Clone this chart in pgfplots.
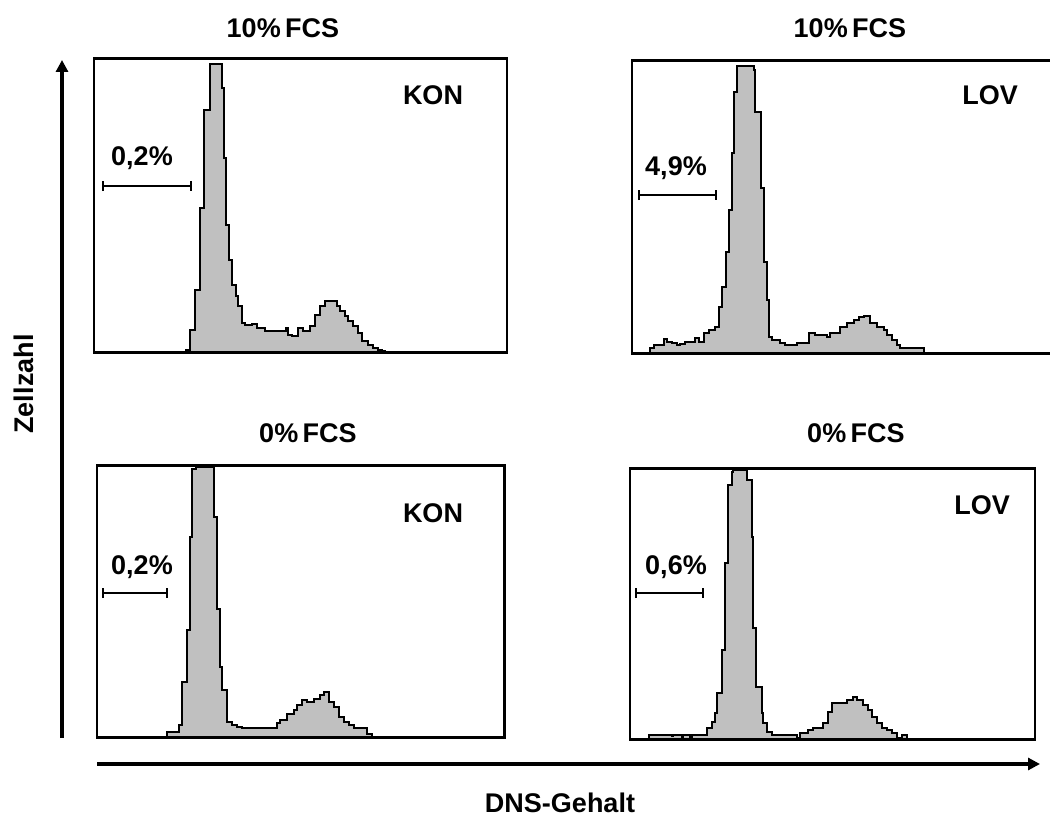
\documentclass[border=0pt]{standalone}
\usepackage{pgfplots}
\pgfplotsset{compat=1.18}
\usepackage{fontspec}
\setmainfont{Liberation Sans}
\usetikzlibrary{arrows.meta}
\definecolor{histgray}{HTML}{C0C0C0}

\pgfplotsset{
  histpanel/.style={
    x=0.5pt, y=0.5pt,
    anchor=south west,
    xmin=0, ymin=0,
    xtick=\empty, ytick=\empty,
    axis line style={line width=1.3pt},
  },
  hist/.style={const plot, fill=histgray, draw=black, line width=0.8pt},
}
\newcommand{\lbl}{\fontsize{13.5}{16}\selectfont\bfseries}

\begin{document}
\begin{tikzpicture}[x=0.5pt, y=0.5pt]
  \useasboundingbox (0,0) rectangle (1050,816);

  % 10% FCS, KON
  \begin{axis}[histpanel, at={(94,463)}, xmax=413, ymax=294.3]
    \addplot[hist] coordinates {
      (0,0) (92,3) (96,23) (101,63) (106,145) (110,243) (116,289) (128,265)
      (130,195) (132,128) (135,93) (138,68) (142,57) (144,47) (148,30) (151,28)
      (158,29) (163,25) (171,22) (189,22) (192,25) (194,18) (198,17) (204,25)
      (209,22) (216,27) (221,38) (226,47) (231,52) (243,47) (246,42) (251,37)
      (254,32) (259,27) (264,20) (268,12) (274,8) (279,5) (284,3) (288,2) (291,0) (413,0)
    } \closedcycle;
    \draw[line width=2.4pt] (rel axis cs:0,0) -- (rel axis cs:1,0);
  \end{axis}

  % 10% FCS, LOV
  \begin{axis}[histpanel, at={(632,462)}, xmax=425, ymax=293.3]
    \addplot[hist] coordinates {
      (0,0) (18,6) (22,9) (32,15) (35,12) (40,11) (45,9) (48,10) (53,12) (63,16)
      (67,12) (72,21) (77,24) (83,27) (87,47) (90,67) (94,102) (97,144) (100,201)
      (102,262) (105,288) (122,284) (123,242) (129,166) (132,92) (135,54) (137,17)
      (140,14) (148,11) (153,9) (165,11) (177,21) (183,19) (195,17) (198,21)
      (208,27) (215,31) (222,34) (227,37) (232,38) (238,31) (245,27) (252,24)
      (255,19) (260,14) (265,9) (268,6) (292,0) (425,0)
    } \closedcycle;
    \draw[line width=2.4pt] (rel axis cs:0,0) -- (rel axis cs:1,0);
  \end{axis}

  % 0% FCS, KON
  \begin{axis}[histpanel, at={(97,78)}, xmax=407.3, ymax=272.7]
    \addplot[hist] coordinates {
      (0,0) (70,6) (82,13) (85,56) (90,108) (93,201) (95,269) (99,271) (117,221)
      (120,129) (123,71) (125,48) (130,16) (135,13) (140,11) (145,10) (180,15)
      (183,18) (190,24) (197,28) (200,33) (205,38) (210,36) (217,39) (223,43)
      (227,46) (232,36) (237,31) (242,21) (247,16) (252,13) (257,10) (270,4) (275,0) (407.3,0)
    } \closedcycle;
    \draw[line width=2.4pt] (rel axis cs:0,0) -- (rel axis cs:1,0);
  \end{axis}

  % 0% FCS, LOV
  \begin{axis}[histpanel, at={(630,76)}, xmax=405, ymax=271.7]
    \addplot[hist] coordinates {
      (0,0) (19,5) (42,4) (43,5) (52,3) (53,5) (60,3) (62,5) (77,12) (82,18)
      (85,27) (87,47) (92,90) (95,177) (98,255) (102,268) (103,270) (117,260)
      (122,203) (123,112) (126,53) (132,27) (133,17) (137,8) (142,5) (167,2)
      (170,7) (178,10) (183,12) (193,17) (198,28) (202,37) (217,40) (223,43)
      (227,40) (233,35) (238,30) (242,23) (247,17) (252,12) (257,10) (262,7)
      (267,2) (272,5) (277,0) (405,0)
    } \closedcycle;
    \draw[line width=2.4pt] (rel axis cs:0,0) -- (rel axis cs:1,0);
  \end{axis}

  % panel titles and labels
  \node[font=\lbl] at (283,788) {10\%\,FCS};
  \node[font=\lbl] at (850,788) {10\%\,FCS};
  \node[font=\lbl] at (308,383) {0\%\,FCS};
  \node[font=\lbl] at (856,383) {0\%\,FCS};
  \node[font=\lbl] at (433,721) {KON};
  \node[font=\lbl] at (990,721) {LOV};
  \node[font=\lbl] at (433,303) {KON};
  \node[font=\lbl] at (982,311) {LOV};
  \node[font=\lbl] at (142,658) {0,2\%};
  \node[font=\lbl] at (676,648) {4,9\%};
  \node[font=\lbl] at (142,249) {0,2\%};
  \node[font=\lbl] at (676,249) {0,6\%};

  % gates
  \tikzset{gate/.style={line width=0.8pt, {Bar[width=5pt]}-{Bar[width=5pt]}}}
  \draw[gate] (102,630) -- (192,630);
  \draw[gate] (638,621) -- (717,621);
  \draw[gate] (102,223) -- (168,223);
  \draw[gate] (635,223) -- (704,223);

  % axes arrows
  \draw[line width=2pt, -{Triangle[length=6pt, width=6pt]}] (62,78) -- (62,756);
  \draw[line width=2.4pt, -{Triangle[length=6pt, width=6pt]}] (97,52) -- (1040,52);
  \node[font=\lbl, rotate=90] at (24,432) {Zellzahl};
  \node[font=\lbl] at (560,13) {DNS-Gehalt};
\end{tikzpicture}
\end{document}
